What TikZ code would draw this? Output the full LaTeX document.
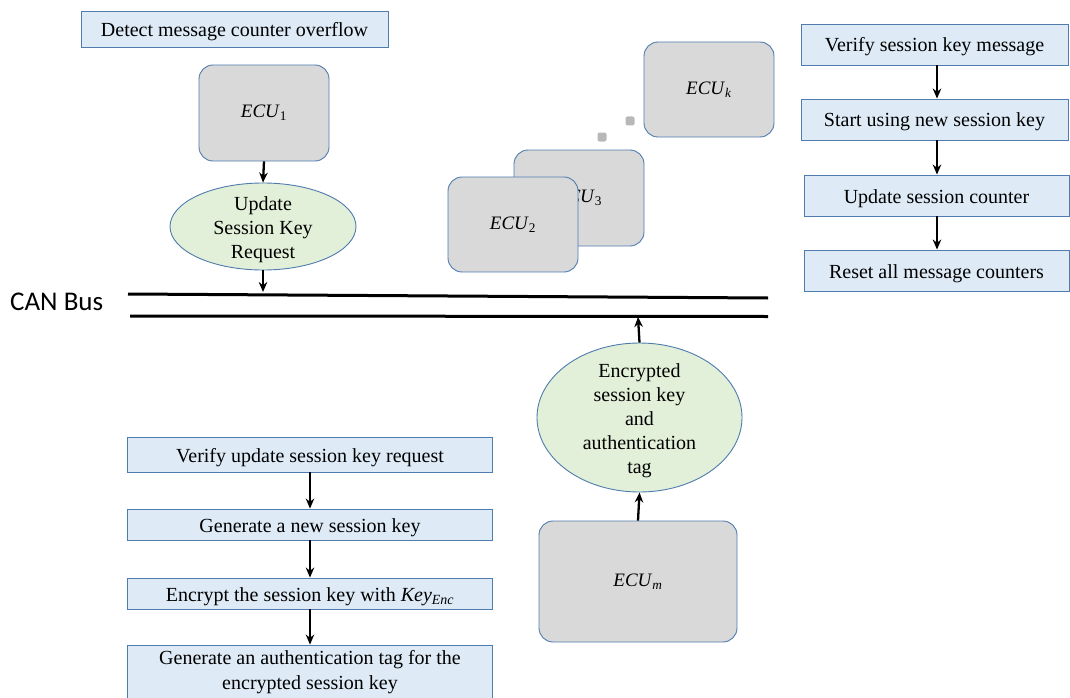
\documentclass[tikz,border=0pt]{standalone}
\usepackage{fontspec}
\setmainfont{Liberation Serif}
\newfontfamily\busfont{Carlito}
\usetikzlibrary{shapes.geometric,arrows.meta}
\definecolor{stepfill}{HTML}{DEEBF7}
\definecolor{edgeblue}{HTML}{4F7BAE}
\definecolor{ecufill}{HTML}{D9D9D9}
\definecolor{msgfill}{HTML}{E2F0D9}
% italic variable names with subscripts
\newcommand{\unitname}[2]{\textit{#1}\textsubscript{#2}}
\tikzset{
  stepbox/.style={draw=edgeblue, fill=stepfill, line width=0.9pt, minimum height=#1,
    inner sep=2pt, font=\fontsize{20}{25}\selectfont, align=center},
  stepbox/.default=36pt,
  oneline/.style={text height=19pt, text depth=4pt},
  ecu/.style={draw=edgeblue, fill=ecufill, line width=0.9pt, rounded corners=14pt,
    font=\fontsize{19}{22}\selectfont},
  msg/.style={ellipse, draw=edgeblue, fill=msgfill, line width=0.9pt, inner sep=0pt},
  msgtext/.style={align=center, inner sep=0pt, yshift=-3pt, font=\fontsize{20}{24}\selectfont},
  flow/.style={-{Stealth[length=10pt,width=8.5pt]}, line width=2.3pt, black},
  bus/.style={line width=3pt, black},
  dot/.style={fill=ecufill!85!black, rounded corners=2pt, minimum size=9pt, inner sep=0pt}
}
\begin{document}
\begin{tikzpicture}[x=1pt,y=-1pt]
\useasboundingbox (0,0) rectangle (1070,698);

% sender side: ECU_1 detects overflow and requests a new session key
\node[stepbox=36pt, oneline, minimum width=307pt] (detect) at (234.5,29) {Detect message counter overflow};
\node[ecu, minimum width=130pt, minimum height=96pt] (ecu1) at (264,113) {\unitname{ECU}{1}};
\node[msg, minimum width=186pt, minimum height=87pt] (req) at (263,226.5) {};
\node[msgtext] (reqtext) at (req.center) {Update\\Session Key\\Request};

% other nodes on the bus
\node[ecu, minimum width=130pt, minimum height=95pt] (ecuk) at (709,89.5) {\unitname{ECU}{\textit{k}}};
\node[dot] (d1) at (602,137) {};
\node[dot] (d2) at (630,121) {};
\node[ecu, minimum width=130pt, minimum height=96pt] (ecu3) at (579,198) {\unitname{ECU}{3}};
\node[ecu, minimum width=130pt, minimum height=95pt] (ecu2) at (513,224.5) {\unitname{ECU}{2}};

% CAN bus
\node[font=\busfont\fontsize{27}{30}\selectfont, anchor=west, inner sep=0pt] (canlabel) at (10,302) {CAN Bus};
\coordinate (busAl) at (128,294);
\coordinate (busAr) at (768,298);
\coordinate (busBl) at (130,316);
\coordinate (busBr) at (768,316.5);
\draw[bus] (busAl) -- (busAr);
\draw[bus] (busBl) -- (busBr);
\coordinate (reqhit) at (263,292);
\coordinate (keyhit) at (638,317);

% key server side
\node[msg, minimum width=205pt, minimum height=149pt] (keymsg) at (639.5,417.5) {};
\node[msgtext] (keytext) at (keymsg.center)
  {Encrypted\\session key\\and\\authentication\\tag};
\node[ecu, minimum width=198pt, minimum height=121pt] (ecum) at (638,581.5) {\unitname{ECU}{\textit{m}}};

\node[stepbox=35pt, oneline, minimum width=365pt] (verreq) at (310,454.5) {Verify update session key request};
\node[stepbox=31pt, oneline, minimum width=365pt] (gen) at (310,524.5) {Generate a new session key};
\node[stepbox=31pt, oneline, minimum width=365pt] (enc) at (310,593.5) {Encrypt the session key with \unitname{Key}{\textit{Enc}}};
\node[stepbox=54pt, minimum width=365pt] (tag) at (310,672)
  {Generate an authentication tag for the\\encrypted session key};

% receiving ECUs
\node[stepbox=41pt, oneline, minimum width=267pt] (vermsg) at (934.5,44.5) {Verify session key message};
\node[stepbox=41pt, oneline, minimum width=267pt] (start) at (934.5,119.5) {Start using new session key};
\node[stepbox=41pt, oneline, minimum width=265pt] (upd) at (936.5,195.5) {Update session counter};
\node[stepbox=41pt, oneline, minimum width=265pt] (reset) at (936.5,270.5) {Reset all message counters};

% connectors
\draw[flow] (ecu1.south) -- (req.north);
\draw[flow] (req.south) -- (reqhit);
\draw[flow] (ecum.north) -- (keymsg.south);
\draw[flow] (keymsg.north) -- (keyhit);
\draw[flow] (verreq.south) -- (gen.north);
\draw[flow] (gen.south) -- (enc.north);
\draw[flow] (enc.south) -- (tag.north);
\draw[flow] (vermsg.south -| 937,0) -- (start.north -| 937,0);
\draw[flow] (start.south -| 937,0) -- (upd.north -| 937,0);
\draw[flow] (upd.south -| 937,0) -- (reset.north -| 937,0);
\end{tikzpicture}
\end{document}
